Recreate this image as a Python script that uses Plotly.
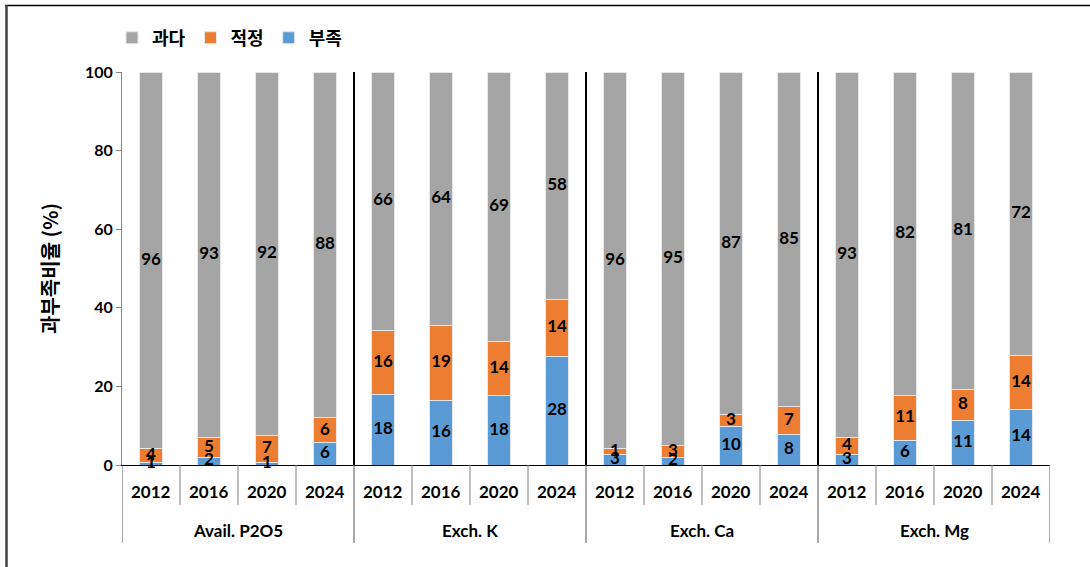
import plotly.graph_objects as go

# Soil nutrient categories and survey years
groups = ["Avail. P2O5", "Exch. K", "Exch. Ca", "Exch. Mg"]
years = ["2012", "2016", "2020", "2024"]

# Share of fields (%) per class, ordered group by group, year by year
deficient = [0.6, 2.0, 0.6, 5.6,
             17.9, 16.3, 17.6, 27.7,
             2.8, 2.0, 9.8, 7.8,
             2.8, 6.2, 11.3, 14.2]
optimal = [3.6, 5.0, 7.0, 6.4,
           16.4, 19.3, 13.8, 14.4,
           1.3, 2.9, 3.0, 7.0,
           4.2, 11.4, 7.9, 13.6]
excess = [95.8, 93.0, 92.4, 88.0,
          65.7, 64.4, 68.6, 57.9,
          95.9, 95.1, 87.2, 85.2,
          93.0, 82.4, 80.8, 72.2]

series_names = ["부족", "적정", "과다"]
series_colors = ["#5B9BD5", "#ED7D31", "#A5A5A5"]
y_ticks = [0, 20, 40, 60, 80, 100]

n_years = len(years)
n_total = len(groups) * n_years
xpos = list(range(n_total))
year_labels = [y for _ in groups for y in years]

NUM_FONT = "Lato, 'Noto Sans CJK KR', sans-serif"
KR_FONT = "'Noto Sans CJK KR', Lato, sans-serif"

# Figure geometry (pixels)
W, H = 1090, 567
ML, MR, MT, MB = 122, 40, 72, 102
plot_w = W - ML - MR
plot_h = H - MT - MB
px = lambda v: (v - ML) / plot_w
py = lambda v: (H - MB - v) / plot_h

fig = go.Figure()
all_series = [deficient, optimal, excess]
for name, vals, color in zip(series_names, all_series, series_colors):
    fig.add_trace(go.Bar(
        name=name, x=xpos, y=vals, width=0.41,
        marker=dict(color=color, line=dict(color="#E6E6E6", width=1)),
        hoverinfo="y+name",
    ))

# Value labels centred in each segment, drawn above all bars
base = [0.0] * n_total
for vals in all_series:
    mids = [b + v / 2 for b, v in zip(base, vals)]
    fig.add_trace(go.Scatter(
        x=xpos, y=mids, mode="text", text=[f"{v:.0f}" for v in vals],
        textfont=dict(family=NUM_FONT, size=17, color="black", weight="bold"),
        showlegend=False, hoverinfo="skip", cliponaxis=False,
    ))
    base = [b + v for b, v in zip(base, vals)]

shapes = []
annotations = []

# Vertical separators between nutrient groups inside the plot
for g in range(1, len(groups)):
    xb = g * n_years - 0.5
    shapes.append(dict(type="line", xref="x", yref="y", x0=xb, x1=xb, y0=0, y1=103,
                       line=dict(color="black", width=2)))

# Category table under the axis: year ticks, group dividers, labels
for i in range(n_total + 1):
    xb = i - 0.5
    is_group_edge = i % n_years == 0
    shapes.append(dict(type="line", xref="x", yref="paper", x0=xb, x1=xb,
                       y0=0, y1=py(543 if is_group_edge else 505),
                       line=dict(color="#595959" if is_group_edge else "#7F7F7F", width=1)))
for i, yl in enumerate(year_labels):
    annotations.append(dict(xref="x", yref="paper", x=xpos[i], y=py(491), text=yl,
                            showarrow=False, yanchor="middle",
                            font=dict(family=NUM_FONT, size=17, color="black", weight="bold")))
for g, name in enumerate(groups):
    annotations.append(dict(xref="x", yref="paper", x=g * n_years + (n_years - 1) / 2,
                            y=py(530), text=name, showarrow=False, yanchor="middle",
                            font=dict(family=NUM_FONT, size=17, color="black", weight="bold")))

# Outer frame (top and left edges)
shapes.append(dict(type="line", xref="paper", yref="paper", x0=px(5), x1=px(1092),
                   y0=py(5.5), y1=py(5.5), line=dict(color="black", width=1.5)))
shapes.append(dict(type="line", xref="paper", yref="paper", x0=px(6.5), x1=px(6.5),
                   y0=py(5), y1=py(570), line=dict(color="#404040", width=2.5)))

fig.update_layout(
    width=W, height=H,
    margin=dict(l=ML, r=MR, t=MT, b=MB),
    barmode="stack",
    plot_bgcolor="white",
    paper_bgcolor="white",
    shapes=shapes,
    annotations=annotations,
    showlegend=True,
    legend=dict(
        orientation="h", traceorder="reversed",
        x=px(112), y=py(38), xanchor="left", yanchor="middle",
        font=dict(family=KR_FONT, size=18, color="black", weight="bold"),
        itemwidth=30, bgcolor="rgba(0,0,0,0)",
    ),
    yaxis=dict(
        range=[0, 100], tickvals=y_ticks, showgrid=False, zeroline=False,
        showline=True, linecolor="#868686", linewidth=1,
        ticks="outside", ticklen=5, tickcolor="#868686",
        tickfont=dict(family=NUM_FONT, size=16, color="black", weight="bold"),
        title=dict(text="과부족비율 (%)", standoff=20,
                   font=dict(family=KR_FONT, size=20, color="black", weight="bold")),
    ),
    xaxis=dict(
        range=[-0.5, n_total - 0.5], showgrid=False, zeroline=False,
        showline=True, linecolor="black", linewidth=1,
        showticklabels=False, ticks="",
    ),
)

fig.write_html("out.html")
